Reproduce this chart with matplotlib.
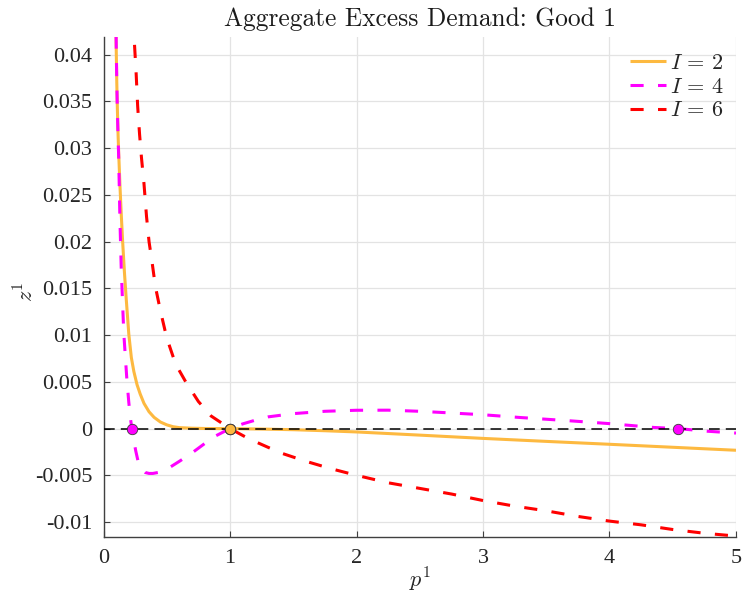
import matplotlib
matplotlib.use("Agg")
import matplotlib.pyplot as plt

plt.rcParams['mathtext.fontset'] = 'cm'

# ---------------- data ----------------
x_I2 = [0.098, 0.100, 0.105, 0.110, 0.115, 0.120, 0.130, 0.140, 0.150, 0.165, 0.180,
        0.200, 0.220, 0.240, 0.265, 0.290, 0.320, 0.360, 0.400, 0.450, 0.500, 0.550,
        0.600, 0.700, 0.800, 0.900, 1.000, 1.250, 1.500, 1.750, 2.000, 2.500, 3.000,
        3.500, 4.000, 4.500, 5.000]
z_I2 = [0.0440, 0.0410, 0.0370, 0.0340, 0.0315, 0.0295, 0.0260, 0.0230, 0.0203, 0.0168, 0.0138,
        0.0101, 0.0076, 0.0061, 0.0047, 0.0037, 0.0027, 0.0018, 0.0012, 0.0007, 0.0004, 0.0002,
        0.0001, 0.00004, 0.00001, 0.0, 0.0, -0.00005, -0.00012, -0.00023, -0.00036, -0.00070, -0.00105,
        -0.00137, -0.00168, -0.00200, -0.00232]

x_I4 = [0.097, 0.100, 0.105, 0.110, 0.115, 0.120, 0.130, 0.140, 0.150, 0.160, 0.170, 0.185,
        0.200, 0.212, 0.224, 0.240, 0.255, 0.275, 0.300, 0.330, 0.360, 0.390, 0.430, 0.480,
        0.530, 0.600, 0.690, 0.780, 0.870, 1.000, 1.100, 1.200, 1.300, 1.500, 1.750, 2.000,
        2.250, 2.500, 2.750, 3.000, 3.300, 3.700, 4.000, 4.350, 4.540, 4.770, 5.000]
z_I4 = [0.0450, 0.0415, 0.0370, 0.0338, 0.0313, 0.0290, 0.0222, 0.0172, 0.0137, 0.0103, 0.0082, 0.0052,
        0.0028, 0.0012, 0.0000, -0.0013, -0.0024, -0.0036, -0.0043, -0.0047, -0.0048, -0.0048, -0.0047, -0.0044,
        -0.0041, -0.0035, -0.0027, -0.0018, -0.0009, 0.0, 0.0005, 0.0009, 0.00125, 0.0016, 0.00185, 0.00196,
        0.00197, 0.00185, 0.00167, 0.00148, 0.00118, 0.00082, 0.00053, 0.00012, 0.0, -0.00028, -0.00048]

x_I6 = [0.235, 0.245, 0.258, 0.270, 0.285, 0.300, 0.320, 0.340, 0.360, 0.385, 0.410, 0.450,
        0.500, 0.570, 0.650, 0.750, 0.850, 1.000, 1.150, 1.400, 1.600, 1.800, 2.000, 2.250,
        2.500, 2.750, 3.000, 3.250, 3.500, 3.750, 4.000, 4.250, 4.500, 4.750, 5.000]
z_I6 = [0.0440, 0.0411, 0.0380, 0.0345, 0.0315, 0.0290, 0.0262, 0.0227, 0.0200, 0.0177, 0.0152, 0.0126,
        0.0097, 0.0069, 0.0050, 0.0029, 0.00135, 0.0, -0.0011, -0.0026, -0.0035, -0.0043, -0.0050, -0.0058,
        -0.0064, -0.0070, -0.0077, -0.0083, -0.0088, -0.0094, -0.0099, -0.0103, -0.0108, -0.0112, -0.0115]

eq_I2 = [1.0]
eq_I4 = [0.224, 1.0, 4.54]
eq_I6 = [1.0]

labels = [r'$I\,=\,2$', r'$I\,=\,4$', r'$I\,=\,6$']
colors = ['#FDB940', '#FF00FF', '#FF0000']

xticks = [0, 1, 2, 3, 4, 5]
yticks = [-0.01, -0.005, 0, 0.005, 0.01, 0.015, 0.02, 0.025, 0.03, 0.035, 0.04]
yticklabels = ['-0.01', '-0.005', '0', '0.005', '0.01', '0.015', '0.02', '0.025', '0.03', '0.035', '0.04']

# ---------------- figure ----------------
fig = plt.figure(figsize=(7.42, 5.95), dpi=100)
ax = fig.add_axes([0.1395, 0.0975, 0.8524, 0.8403])

axc = '#404040'
dash = (0, (4.3, 4.7))
ax.plot(x_I2, z_I2, color=colors[0], lw=2.2, solid_capstyle='butt', label=labels[0], zorder=3)
ax.plot(x_I4, z_I4, color=colors[1], lw=2.2, linestyle=dash, label=labels[1], zorder=3)
ax.plot(x_I6, z_I6, color=colors[2], lw=2.2, linestyle=dash, label=labels[2], zorder=3)

ax.plot([0, 5], [0, 0], color='black', lw=1.1, linestyle=(0, (7, 4)), zorder=4)

ax.plot(eq_I6, [0] * len(eq_I6), 'o', ms=7.5, mfc=colors[2], mec='#3a3a3a', mew=0.6, zorder=5)
ax.plot(eq_I4, [0] * len(eq_I4), 'o', ms=7.5, mfc=colors[1], mec='#3a3a3a', mew=0.6, zorder=5)
ax.plot(eq_I2, [0] * len(eq_I2), 'o', ms=7.5, mfc=colors[0], mec='#3a3a3a', mew=0.6, zorder=6)

ax.set_xlim(0, 5)
ax.set_ylim(-0.0116, 0.0419)
ax.set_xticks(xticks)
ax.set_xticklabels([str(t) for t in xticks])
ax.set_yticks(yticks)
ax.set_yticklabels(yticklabels)

for lab in ax.get_xticklabels() + ax.get_yticklabels():
    lab.set_fontfamily('Liberation Serif')
    lab.set_fontsize(16)
    lab.set_color('#262626')

ax.tick_params(direction='in', length=4.5, width=0.8, color=axc, pad=8)
ax.tick_params(axis='x', pad=9)
ax.grid(True, color='#e3e3e3', lw=0.9)
ax.set_axisbelow(True)
for s in ['top', 'right']:
    ax.spines[s].set_visible(False)
for s in ['left', 'bottom']:
    ax.spines[s].set_color(axc)
    ax.spines[s].set_linewidth(1.0)

ax.set_title('Aggregate Excess Demand: Good 1', fontfamily='cmr10', fontsize=18.3, color='#1a1a1a', pad=8)
ax.set_xlabel(r'$p^1$', fontsize=16, color='#262626', va='center')
ax.xaxis.set_label_coords(0.5, -0.086)
ax.set_ylabel(r'$z^1$', fontsize=16, color='#262626', va='center')
ax.yaxis.set_label_coords(-0.124, 0.49)

leg = ax.legend(loc='upper right', bbox_to_anchor=(1.0, 0.992), frameon=False, fontsize=16,
                handlelength=1.6, handletextpad=0.2, labelspacing=0.16, borderaxespad=0.15)
for t in leg.get_texts():
    t.set_color('#262626')

fig.savefig('out.png', dpi=100)
